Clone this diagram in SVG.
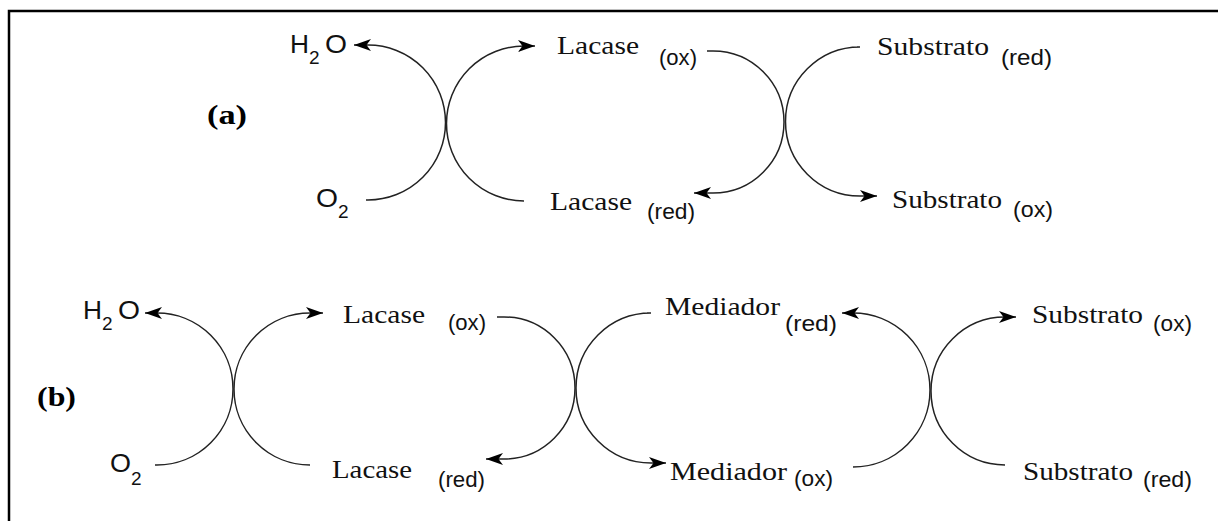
<svg xmlns="http://www.w3.org/2000/svg" width="1218" height="521" viewBox="0 0 1218 521">
  <style>
    .sr { font-family: "Liberation Serif", "Times New Roman", serif; font-size: 26px; fill: #111; }
    .sb { font-family: "Liberation Sans", Arial, sans-serif; font-size: 22px; fill: #111; }
    .ch { font-family: "Liberation Sans", Arial, sans-serif; font-size: 25px; fill: #111; }
    .ix { font-family: "Liberation Sans", Arial, sans-serif; font-size: 19px; fill: #111; }
    .lb { font-family: "Liberation Serif", "Times New Roman", serif; font-size: 27px; font-weight: bold; fill: #000; }
    .arc { fill: none; stroke: #222; stroke-width: 1.5; marker-end: url(#head); }
  </style>
  <defs>
    <marker id="head" markerUnits="userSpaceOnUse" viewBox="0 0 17 12" markerWidth="17" markerHeight="12" refX="17" refY="6" orient="auto">
      <path d="M0,0 L17,6 L0,12 L4.5,6 Z" fill="#000"/>
    </marker>
  </defs>

  <rect x="9" y="11" width="1220" height="520" fill="#fff" stroke="#000" stroke-width="2.5"/>

  <!-- reaction arrows -->
  <g id="connectors">
    <!-- panel (a) -->
    <path class="arc" d="M366,200 L368,200 A77.5,77.5 0 0 0 368,45 L354,45"/>
    <path class="arc" d="M520,201 L524,201 A77.5,77.5 0 0 1 524,46 L535,46"/>
    <path class="arc" d="M707,51 L713,51 A71,71 0 0 1 713,193 L694,193"/>
    <path class="arc" d="M857,47 L860,47 A74.5,74.5 0 0 0 860,196 L877,196"/>
    <!-- panel (b) -->
    <path class="arc" d="M155,465 L157,465 A76,76 0 0 0 157,313 L145,313"/>
    <path class="arc" d="M308,465 L310,465 A76,76 0 0 1 310,313 L323,313"/>
    <path class="arc" d="M497,317 L504,317 A71,71 0 0 1 504,459 L486,459"/>
    <path class="arc" d="M647,313 L651,313 A75,75 0 0 0 651,463 L666,463"/>
    <path class="arc" d="M853,467 A77,77 0 0 0 853,313 L842,313"/>
    <path class="arc" d="M1004,465 L1005,465 A74,74 0 0 1 1005,317 L1016,317"/>
  </g>

  <!-- panel labels -->
  <g id="label-a"><text class="lb" x="207" y="124" textLength="40" lengthAdjust="spacingAndGlyphs">(a)</text></g>
  <g id="label-b"><text class="lb" x="37" y="406" textLength="39" lengthAdjust="spacingAndGlyphs">(b)</text></g>

  <!-- panel (a) species -->
  <g id="a-h2o">
    <text class="ch" x="290" y="53" textLength="19" lengthAdjust="spacingAndGlyphs">H</text>
    <text class="ix" x="309" y="64">2</text>
    <text class="ch" x="325" y="53" textLength="22" lengthAdjust="spacingAndGlyphs">O</text>
  </g>
  <g id="a-o2">
    <text class="ch" x="316" y="207" textLength="22" lengthAdjust="spacingAndGlyphs">O</text>
    <text class="ix" x="338" y="218">2</text>
  </g>
  <g id="a-lacase-ox">
    <text class="sr" x="557" y="54" textLength="82" lengthAdjust="spacingAndGlyphs">Lacase</text>
    <text class="sb" x="659" y="65" textLength="38" lengthAdjust="spacingAndGlyphs">(ox)</text>
  </g>
  <g id="a-lacase-red">
    <text class="sr" x="550" y="210" textLength="82" lengthAdjust="spacingAndGlyphs">Lacase</text>
    <text class="sb" x="647" y="219" textLength="48" lengthAdjust="spacingAndGlyphs">(red)</text>
  </g>
  <g id="a-substrato-red">
    <text class="sr" x="877" y="55" textLength="112" lengthAdjust="spacingAndGlyphs">Substrato</text>
    <text class="sb" x="1001" y="65" textLength="51" lengthAdjust="spacingAndGlyphs">(red)</text>
  </g>
  <g id="a-substrato-ox">
    <text class="sr" x="892" y="208" textLength="110" lengthAdjust="spacingAndGlyphs">Substrato</text>
    <text class="sb" x="1013" y="217" textLength="40" lengthAdjust="spacingAndGlyphs">(ox)</text>
  </g>

  <!-- panel (b) species -->
  <g id="b-h2o">
    <text class="ch" x="83" y="319" textLength="19" lengthAdjust="spacingAndGlyphs">H</text>
    <text class="ix" x="102" y="330">2</text>
    <text class="ch" x="118" y="319" textLength="22" lengthAdjust="spacingAndGlyphs">O</text>
  </g>
  <g id="b-o2">
    <text class="ch" x="110" y="472" textLength="21" lengthAdjust="spacingAndGlyphs">O</text>
    <text class="ix" x="131" y="485">2</text>
  </g>
  <g id="b-lacase-ox">
    <text class="sr" x="343" y="323" textLength="82" lengthAdjust="spacingAndGlyphs">Lacase</text>
    <text class="sb" x="448" y="330" textLength="38" lengthAdjust="spacingAndGlyphs">(ox)</text>
  </g>
  <g id="b-lacase-red">
    <text class="sr" x="332" y="478" textLength="80" lengthAdjust="spacingAndGlyphs">Lacase</text>
    <text class="sb" x="438" y="487" textLength="47" lengthAdjust="spacingAndGlyphs">(red)</text>
  </g>
  <g id="b-mediador-red">
    <text class="sr" x="665" y="315" textLength="115" lengthAdjust="spacingAndGlyphs">Mediador</text>
    <text class="sb" x="785" y="331" textLength="52" lengthAdjust="spacingAndGlyphs">(red)</text>
  </g>
  <g id="b-mediador-ox">
    <text class="sr" x="670" y="480" textLength="117" lengthAdjust="spacingAndGlyphs">Mediador</text>
    <text class="sb" x="794" y="486" textLength="39" lengthAdjust="spacingAndGlyphs">(ox)</text>
  </g>
  <g id="b-substrato-ox">
    <text class="sr" x="1032" y="323" textLength="111" lengthAdjust="spacingAndGlyphs">Substrato</text>
    <text class="sb" x="1153" y="331" textLength="39" lengthAdjust="spacingAndGlyphs">(ox)</text>
  </g>
  <g id="b-substrato-red">
    <text class="sr" x="1023" y="480" textLength="110" lengthAdjust="spacingAndGlyphs">Substrato</text>
    <text class="sb" x="1143" y="487" textLength="49" lengthAdjust="spacingAndGlyphs">(red)</text>
  </g>
</svg>
